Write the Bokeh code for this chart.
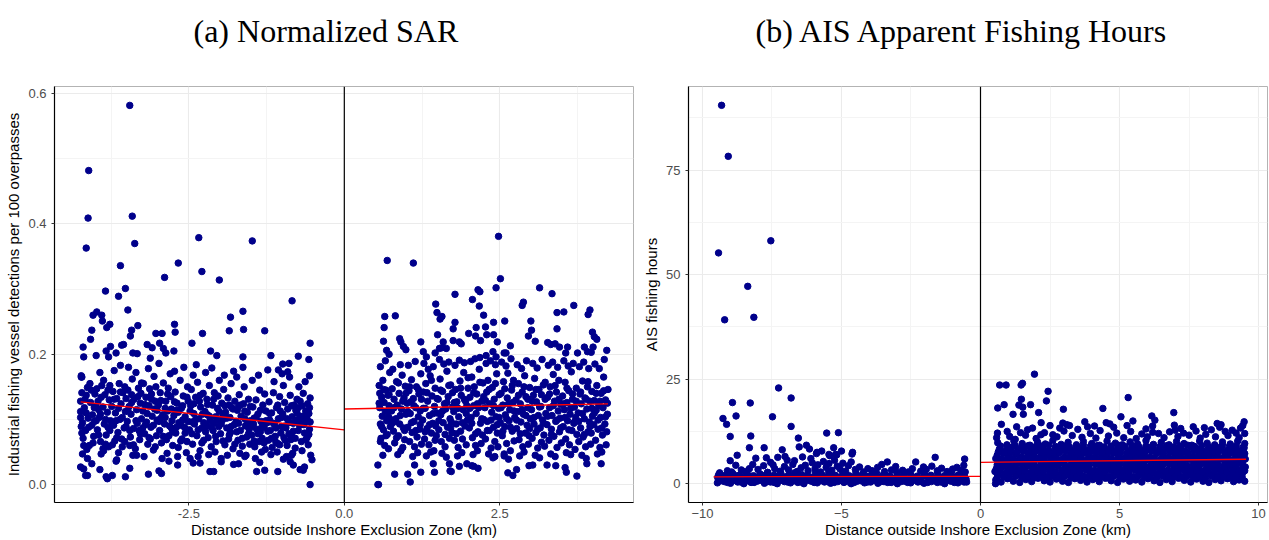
from bokeh.plotting import figure
from bokeh.layouts import row
from bokeh.models import Range1d, FixedTicker, Span, PrintfTickFormatter
from bokeh.embed import file_html
from bokeh.resources import INLINE

# ---------------- data: (a) Normalized SAR ----------------
sar_left_upper = [(-3.45,.582),(-4.11,.482),(-4.12,.409),(-3.41,.412),(-4.15,.363),(-3.37,.370),(-2.34,.379),(-1.48,.374),
 (-3.60,.336),(-2.67,.340),(-2.29,.327),(-2.89,.318),(-2.01,.314),(-3.84,.297),(-3.52,.301),(-3.63,.289),(-0.84,.282),
 (-3.48,.268),(-4.04,.260),(-3.98,.265),(-3.90,.260),(-3.89,.251),(-3.77,.246),(-3.82,.241),(-4.06,.237),(-4.08,.223),
 (-4.20,.211),(-4.19,.196),(-3.42,.237),(-3.32,.244),(-3.44,.228),(-2.73,.246),(-2.72,.234),(-3.03,.232),(-2.93,.232),
 (-1.83,.257),(-1.63,.266),(-1.85,.236),(-1.62,.238),(-2.28,.232),(-1.28,.236),(-2.45,.217),(-0.55,.217),(-2.15,.205),
 (-2.05,.198),(-1.63,.196),(-1.18,.198),(-0.74,.197),(-0.57,.192),(-3.76,.212),(-3.83,.205),(-3.58,.214),(-3.55,.215),
 (-3.99,.198),(-3.79,.196),(-3.67,.202),(-3.40,.202),(-3.33,.201),(-3.17,.215),(-3.09,.210),(-3.12,.194),(-2.97,.217),
 (-2.91,.209),(-2.87,.202),(-2.74,.205),(-4.23,.167),(-4.22,.165),(-0.56,.167),(-0.89,.186),(-0.91,.173),(-1.06,.176),
 (-1.00,.170),(-0.99,.185)]
sar_left_core = [
 (-4.23,.165),(-4.22,.141),(-4.24,.128),(-4.21,.095),(-4.23,.089),(-4.20,.071),(-4.24,.112),(-4.18,.118),(-4.15,.137),(-4.12,.102),(-4.16,.083),
 (-4.10,.060),(-4.13,.149),(-4.08,.126),(-4.06,.091),(-4.03,.074),(-4.05,.107),(-4.01,.139),(-4.14,.054),(-4.09,.155),(-4.02,.118),(-4.19,.060),
 (-3.98,.147),(-3.96,.128),(-3.97,.084),(-3.94,.103),(-3.92,.066),(-3.90,.152),(-3.88,.119),(-3.86,.093),(-3.85,.138),(-3.83,.076),(-3.81,.111),
 (-3.79,.058),(-3.78,.130),(-3.76,.098),(-3.93,.172),(-3.87,.160),(-3.80,.145),(-3.95,.115),(-3.84,.062),(-3.77,.083),(-3.91,.047),(-3.99,.098),
 (-3.74,.120),(-3.72,.143),(-3.71,.091),(-3.69,.067),(-3.68,.110),(-3.66,.132),(-3.64,.080),(-3.62,.155),(-3.61,.100),(-3.59,.124),(-3.57,.058),
 (-3.56,.141),(-3.54,.087),(-3.52,.112),(-3.70,.175),(-3.63,.049),(-3.58,.070),(-3.53,.150),(-3.67,.098),(-3.73,.061),(-3.60,.183),(-3.51,.132),
 (-3.49,.097),(-3.48,.145),(-3.46,.120),(-3.44,.073),(-3.43,.108),(-3.41,.162),(-3.39,.086),(-3.38,.131),(-3.36,.055),(-3.34,.115),(-3.33,.094),
 (-3.31,.148),(-3.29,.069),(-3.28,.125),(-3.26,.101),(-3.47,.180),(-3.40,.045),(-3.35,.172),(-3.27,.140),(-3.45,.060),(-3.30,.083),(-3.42,.138),
 (-3.24,.113),(-3.23,.155),(-3.21,.078),(-3.19,.134),(-3.18,.096),(-3.16,.062),(-3.14,.121),(-3.13,.147),(-3.11,.088),(-3.09,.105),(-3.07,.053),
 (-3.06,.166),(-3.04,.128),(-3.02,.075),(-3.01,.099),(-3.22,.043),(-3.15,.178),(-3.10,.139),(-3.05,.116),(-3.20,.092),(-3.12,.070),(-3.03,.150),
 (-2.99,.122),(-2.97,.083),(-2.96,.141),(-2.94,.064),(-2.92,.107),(-2.91,.156),(-2.89,.093),(-2.87,.128),(-2.85,.048),(-2.84,.113),(-2.82,.075),
 (-2.80,.170),(-2.79,.135),(-2.77,.098),(-2.76,.060),(-2.98,.186),(-2.93,.040),(-2.88,.117),(-2.83,.148),(-2.78,.087),(-2.95,.102),(-2.86,.069),
 (-2.74,.106),(-2.72,.142),(-2.71,.079),(-2.69,.125),(-2.67,.057),(-2.66,.095),(-2.64,.160),(-2.62,.117),(-2.61,.070),(-2.59,.136),(-2.57,.088),
 (-2.56,.104),(-2.54,.049),(-2.52,.150),(-2.51,.128),(-2.73,.174),(-2.68,.043),(-2.63,.091),(-2.58,.180),(-2.53,.066),(-2.70,.114),(-2.60,.099),
 (-2.49,.084),(-2.47,.121),(-2.46,.146),(-2.44,.062),(-2.42,.109),(-2.41,.093),(-2.39,.134),(-2.37,.075),(-2.36,.157),(-2.34,.101),(-2.32,.052),
 (-2.31,.119),(-2.29,.087),(-2.27,.140),(-2.26,.068),(-2.48,.040),(-2.43,.168),(-2.38,.184),(-2.33,.128),(-2.28,.108),(-2.45,.096),(-2.35,.043),
 (-2.24,.112),(-2.22,.090),(-2.21,.131),(-2.19,.072),(-2.17,.152),(-2.16,.098),(-2.14,.058),(-2.12,.122),(-2.11,.083),(-2.09,.141),(-2.07,.104),
 (-2.06,.066),(-2.04,.117),(-2.02,.089),(-2.01,.160),(-2.23,.172),(-2.18,.046),(-2.13,.179),(-2.08,.050),(-2.03,.136),(-2.20,.107),(-2.10,.094),
 (-1.99,.078),(-1.97,.125),(-1.96,.099),(-1.94,.146),(-1.92,.061),(-1.91,.111),(-1.89,.087),(-1.87,.133),(-1.86,.070),(-1.84,.103),(-1.82,.155),
 (-1.81,.118),(-1.79,.055),(-1.77,.092),(-1.76,.128),(-1.98,.040),(-1.93,.168),(-1.88,.045),(-1.83,.080),(-1.78,.174),(-1.95,.106),(-1.85,.122),
 (-1.74,.097),(-1.72,.114),(-1.71,.068),(-1.69,.138),(-1.67,.083),(-1.66,.105),(-1.64,.059),(-1.62,.124),(-1.61,.150),(-1.59,.090),(-1.57,.073),
 (-1.56,.111),(-1.54,.131),(-1.52,.062),(-1.51,.098),(-1.73,.165),(-1.68,.048),(-1.63,.180),(-1.58,.045),(-1.53,.085),(-1.70,.120),(-1.60,.101),
 (-1.49,.076),(-1.47,.119),(-1.46,.093),(-1.44,.058),(-1.42,.130),(-1.41,.085),(-1.39,.108),(-1.37,.066),(-1.36,.145),(-1.34,.097),(-1.32,.071),
 (-1.31,.122),(-1.29,.088),(-1.27,.054),(-1.26,.113),(-1.48,.160),(-1.43,.040),(-1.38,.168),(-1.33,.050),(-1.28,.139),(-1.45,.102),(-1.35,.081),
 (-1.24,.095),(-1.22,.068),(-1.21,.127),(-1.19,.083),(-1.17,.110),(-1.16,.057),(-1.14,.141),(-1.12,.092),(-1.11,.074),(-1.09,.118),(-1.07,.063),
 (-1.06,.101),(-1.04,.135),(-1.02,.079),(-1.01,.089),(-1.23,.176),(-1.18,.046),(-1.13,.158),(-1.08,.050),(-1.03,.113),(-1.20,.099),(-1.10,.065),
 (-0.99,.108),(-0.97,.072),(-0.96,.126),(-0.94,.087),(-0.92,.060),(-0.91,.116),(-0.89,.095),(-0.87,.137),(-0.86,.069),(-0.84,.104),(-0.82,.082),
 (-0.81,.122),(-0.79,.056),(-0.77,.099),(-0.76,.131),(-0.98,.152),(-0.93,.043),(-0.88,.165),(-0.83,.048),(-0.78,.114),(-0.95,.090),(-0.85,.075),
 (-0.74,.118),(-0.72,.091),(-0.71,.128),(-0.69,.066),(-0.67,.105),(-0.66,.140),(-0.64,.079),(-0.62,.113),(-0.61,.097),(-0.59,.124),(-0.58,.061),
 (-0.57,.109),(-0.56,.085),(-0.55,.133),(-0.73,.150),(-0.68,.052),(-0.63,.158),(-0.60,.072),(-0.56,.118),(-0.70,.099)]
sar_left_core2 = [
 (-4.24,.103),(-4.22,.079),(-4.17,.131),(-4.11,.088),(-4.07,.145),(-4.04,.064),(-4.02,.097),(-4.15,.110),
 (-3.99,.120),(-3.95,.076),(-3.91,.134),(-3.87,.052),(-3.84,.100),(-3.80,.088),(-3.77,.152),(-3.92,.108),
 (-3.73,.094),(-3.70,.131),(-3.66,.072),(-3.63,.117),(-3.60,.142),(-3.57,.103),(-3.53,.066),(-3.51,.089),
 (-3.48,.114),(-3.45,.083),(-3.42,.126),(-3.39,.061),(-3.35,.098),(-3.32,.135),(-3.28,.078),(-3.26,.156),
 (-3.24,.087),(-3.21,.123),(-3.17,.109),(-3.14,.072),(-3.10,.131),(-3.07,.091),(-3.04,.058),(-3.01,.114),
 (-2.98,.097),(-2.95,.129),(-2.91,.074),(-2.88,.103),(-2.84,.139),(-2.81,.090),(-2.78,.116),(-2.76,.081),
 (-2.73,.127),(-2.70,.088),(-2.67,.111),(-2.63,.067),(-2.60,.121),(-2.56,.079),(-2.53,.134),(-2.51,.097),
 (-2.48,.113),(-2.45,.078),(-2.42,.124),(-2.39,.100),(-2.35,.084),(-2.32,.137),(-2.29,.064),(-2.26,.095),
 (-2.23,.081),(-2.20,.123),(-2.17,.105),(-2.14,.088),(-2.10,.131),(-2.07,.074),(-2.04,.099),(-2.01,.112),
 (-1.98,.093),(-1.95,.067),(-1.92,.121),(-1.89,.102),(-1.85,.076),(-1.82,.089),(-1.79,.116),(-1.76,.062),
 (-1.73,.081),(-1.70,.094),(-1.67,.122),(-1.64,.071),(-1.60,.113),(-1.57,.092),(-1.54,.078),(-1.51,.120),
 (-1.48,.089),(-1.45,.067),(-1.42,.103),(-1.39,.078),(-1.35,.114),(-1.32,.090),(-1.29,.064),(-1.26,.098),
 (-1.23,.082),(-1.20,.109),(-1.17,.071),(-1.14,.094),(-1.10,.087),(-1.07,.122),(-1.04,.061),(-1.01,.103),
 (-0.98,.089),(-0.95,.068),(-0.92,.101),(-0.89,.078),(-0.85,.121),(-0.82,.094),(-0.79,.071),(-0.76,.110),
 (-0.74,.083),(-0.71,.104),(-0.68,.121),(-0.65,.092),(-0.62,.069),(-0.60,.101),(-0.57,.077),(-0.55,.096)]
sar_left_low = [(-0.55,.000),(-4.24,.027),(-4.19,.024),(-4.16,.014),(-4.13,.014),(-3.93,.023),(-3.83,.012),(-3.81,.009),
 (-3.73,.014),(-3.52,.012),(-3.45,.025),(-3.15,.016),(-2.98,.021),(-2.94,.017),(-2.68,.030),(-2.16,.020),(-2.10,.020),
 (-1.41,.020),(-1.28,.022),(-1.07,.020),(-0.87,.035),(-0.82,.030),(-0.71,.023),(-0.66,.022),(-0.64,.027),(-0.54,.045),
 (-0.52,.038),(-4.21,.047),(-4.13,.040),(-4.06,.032),(-3.88,.055),(-3.66,.038),(-3.67,.036),(-3.34,.045),(-2.82,.036),
 (-2.43,.033),(-2.32,.033),(-1.98,.035),(-1.78,.031),(-1.70,.032),(-1.60,.043),(-1.36,.034),(-0.98,.039),(-0.85,.045)]

sar_right_upper = [(2.48,.381),(0.69,.344),(1.11,.340),(2.51,.316),(2.44,.302),(3.14,.302),(3.34,.293),(2.15,.299),(2.18,.296),
 (1.78,.292),(2.06,.284),(2.88,.280),(2.86,.275),(3.69,.275),(1.47,.277),(2.17,.274),(1.49,.264),(3.95,.268),(3.92,.261),
 (3.42,.264),(3.53,.265),(0.65,.258),(0.82,.259),(1.54,.254),(1.57,.258),(2.24,.260),(1.78,.249),(2.40,.249),(2.58,.251),
 (3.00,.251),(0.64,.241),(1.75,.239),(2.12,.241),(2.27,.242),(3.01,.237),(3.42,.239),(3.99,.234),(4.02,.227),(4.06,.223),
 (0.63,.220),(0.89,.224),(0.91,.219),(0.95,.212),(0.99,.207),(0.68,.206),(0.72,.200),(1.23,.219),(1.50,.230),(2.00,.232),
 (2.11,.228),(2.19,.221),(2.29,.230),(2.40,.230),(2.46,.219),(2.96,.228),(3.07,.220),(3.27,.218),(3.32,.215),(3.39,.216),
 (3.46,.211),(3.59,.211),(3.56,.202),(4.22,.206),(3.75,.202),(3.86,.211),(3.91,.204),(3.97,.203),(4.00,.211),(1.27,.204),
 (1.32,.196),(1.46,.202),(1.53,.209),(1.57,.210),(1.59,.219),(1.64,.209),(1.75,.221),(1.85,.219),(1.88,.216),(2.28,.198),
 (2.39,.204),(2.44,.196),(2.57,.202),(2.60,.202),(2.67,.213)]
sar_right_core = [
 (0.56,.152),(0.57,.118),(0.58,.093),(0.59,.071),(0.60,.134),(0.61,.105),(0.62,.160),(0.63,.084),(0.64,.126),(0.65,.060),(0.66,.112),(0.67,.145),
 (0.68,.098),(0.69,.077),(0.70,.137),(0.71,.055),(0.72,.121),(0.73,.172),(0.74,.089),(0.58,.181),(0.62,.045),(0.57,.140),(0.66,.190),(0.71,.104),
 (0.76,.113),(0.77,.147),(0.79,.082),(0.80,.131),(0.81,.064),(0.83,.101),(0.84,.158),(0.85,.122),(0.87,.075),(0.88,.140),(0.89,.093),(0.91,.052),
 (0.92,.116),(0.93,.168),(0.95,.087),(0.96,.133),(0.97,.069),(0.99,.108),(0.78,.177),(0.86,.046),(0.90,.184),(0.94,.057),(0.98,.151),(0.82,.097),
 (1.01,.125),(1.02,.088),(1.04,.144),(1.05,.066),(1.06,.109),(1.08,.161),(1.09,.080),(1.11,.132),(1.12,.097),(1.13,.058),(1.15,.118),(1.16,.150),
 (1.17,.073),(1.19,.104),(1.20,.139),(1.21,.085),(1.23,.170),(1.24,.062),(1.03,.183),(1.10,.043),(1.14,.189),(1.18,.049),(1.22,.113),(1.07,.127),
 (1.26,.099),(1.27,.142),(1.29,.070),(1.30,.117),(1.31,.155),(1.33,.086),(1.34,.128),(1.36,.061),(1.37,.106),(1.38,.167),(1.40,.079),(1.41,.136),
 (1.42,.094),(1.44,.052),(1.45,.120),(1.46,.148),(1.48,.075),(1.49,.110),(1.28,.186),(1.32,.044),(1.35,.177),(1.39,.050),(1.43,.181),(1.47,.090),
 (1.51,.131),(1.52,.084),(1.54,.162),(1.55,.107),(1.56,.066),(1.58,.143),(1.59,.095),(1.61,.124),(1.62,.058),(1.63,.116),(1.65,.174),(1.66,.088),
 (1.67,.135),(1.69,.071),(1.70,.101),(1.71,.153),(1.73,.080),(1.74,.119),(1.53,.192),(1.57,.048),(1.60,.185),(1.64,.042),(1.68,.188),(1.72,.096),
 (1.76,.112),(1.77,.068),(1.79,.146),(1.80,.093),(1.81,.127),(1.83,.057),(1.84,.104),(1.86,.159),(1.87,.082),(1.88,.137),(1.90,.070),(1.91,.115),
 (1.92,.172),(1.94,.090),(1.95,.128),(1.96,.061),(1.98,.099),(1.99,.148),(1.78,.183),(1.82,.044),(1.85,.191),(1.89,.049),(1.93,.187),(1.97,.121),
 (2.01,.087),(2.02,.134),(2.04,.103),(2.05,.165),(2.06,.072),(2.08,.121),(2.09,.150),(2.11,.060),(2.12,.109),(2.13,.139),(2.15,.081),(2.16,.118),
 (2.17,.177),(2.19,.094),(2.20,.063),(2.21,.128),(2.23,.156),(2.24,.100),(2.03,.189),(2.07,.046),(2.10,.193),(2.14,.052),(2.18,.195),(2.22,.076),
 (2.26,.118),(2.27,.070),(2.29,.142),(2.30,.097),(2.31,.160),(2.33,.083),(2.34,.124),(2.36,.056),(2.37,.111),(2.38,.149),(2.40,.088),(2.41,.131),
 (2.42,.066),(2.44,.104),(2.45,.170),(2.46,.079),(2.48,.117),(2.49,.138),(2.28,.186),(2.32,.047),(2.35,.190),(2.39,.041),(2.43,.184),(2.47,.058),
 (2.51,.095),(2.52,.140),(2.54,.075),(2.55,.122),(2.56,.158),(2.58,.089),(2.59,.107),(2.61,.063),(2.62,.133),(2.63,.171),(2.65,.098),(2.66,.115),
 (2.67,.052),(2.69,.145),(2.70,.082),(2.71,.126),(2.73,.067),(2.74,.103),(2.53,.188),(2.57,.047),(2.60,.182),(2.64,.039),(2.68,.193),(2.72,.160),
 (2.76,.130),(2.77,.086),(2.79,.112),(2.80,.155),(2.81,.069),(2.83,.124),(2.84,.096),(2.86,.142),(2.87,.058),(2.88,.108),(2.90,.167),(2.91,.079),
 (2.92,.135),(2.94,.091),(2.95,.118),(2.96,.062),(2.98,.149),(2.99,.101),(2.78,.184),(2.82,.044),(2.85,.178),(2.89,.050),(2.93,.190),(2.97,.075),
 (3.01,.115),(3.02,.071),(3.04,.137),(3.05,.093),(3.06,.163),(3.08,.080),(3.09,.127),(3.11,.056),(3.12,.106),(3.13,.146),(3.15,.087),(3.16,.120),
 (3.17,.065),(3.19,.099),(3.20,.153),(3.21,.076),(3.23,.131),(3.24,.109),(3.03,.186),(3.07,.045),(3.10,.179),(3.14,.041),(3.18,.192),(3.22,.059),
 (3.26,.092),(3.27,.134),(3.29,.068),(3.30,.118),(3.31,.150),(3.33,.085),(3.34,.106),(3.36,.169),(3.37,.074),(3.38,.128),(3.40,.097),(3.41,.142),
 (3.42,.057),(3.44,.113),(3.45,.160),(3.46,.081),(3.48,.123),(3.49,.064),(3.28,.183),(3.32,.047),(3.35,.188),(3.39,.043),(3.43,.180),(3.47,.102),
 (3.51,.136),(3.52,.089),(3.54,.115),(3.55,.157),(3.56,.070),(3.58,.126),(3.59,.098),(3.61,.144),(3.62,.061),(3.63,.108),(3.65,.173),(3.66,.083),
 (3.67,.131),(3.69,.094),(3.70,.119),(3.71,.054),(3.73,.148),(3.74,.077),(3.53,.190),(3.57,.049),(3.60,.182),(3.64,.046),(3.68,.186),(3.72,.103),
 (3.76,.110),(3.77,.066),(3.79,.139),(3.80,.087),(3.81,.124),(3.83,.159),(3.84,.073),(3.86,.101),(3.87,.133),(3.88,.058),(3.90,.116),(3.91,.150),
 (3.92,.081),(3.94,.096),(3.95,.128),(3.96,.062),(3.98,.143),(3.99,.105),(3.78,.181),(3.82,.045),(3.85,.188),(3.89,.040),(3.93,.178),(3.97,.079),
 (4.01,.092),(4.02,.129),(4.04,.068),(4.05,.114),(4.06,.152),(4.08,.085),(4.09,.121),(4.11,.057),(4.12,.103),(4.13,.140),(4.15,.076),(4.16,.118),
 (4.17,.165),(4.19,.093),(4.20,.130),(4.21,.061),(4.23,.108),(4.24,.146),(4.03,.185),(4.07,.047),(4.10,.178),(4.14,.050),(4.18,.192),(4.22,.081)]
sar_right_core2 = [
 (0.56,.125),(0.60,.089),(0.63,.146),(0.67,.075),(0.70,.112),(0.73,.101),(0.58,.066),(0.72,.138),
 (0.77,.094),(0.80,.118),(0.84,.072),(0.87,.156),(0.90,.106),(0.94,.128),(0.97,.083),(0.99,.140),
 (1.02,.112),(1.05,.150),(1.08,.095),(1.12,.121),(1.15,.083),(1.19,.146),(1.22,.092),(1.24,.131),
 (1.27,.117),(1.30,.081),(1.33,.141),(1.37,.092),(1.40,.160),(1.43,.109),(1.46,.068),(1.49,.132),
 (1.52,.098),(1.55,.145),(1.58,.113),(1.62,.077),(1.65,.126),(1.68,.152),(1.71,.087),(1.74,.141),
 (1.77,.126),(1.80,.078),(1.83,.117),(1.87,.148),(1.90,.095),(1.93,.131),(1.96,.109),(1.99,.164),
 (2.02,.117),(2.05,.094),(2.08,.141),(2.11,.078),(2.14,.124),(2.18,.157),(2.21,.101),(2.24,.135),
 (2.27,.129),(2.30,.083),(2.33,.146),(2.36,.099),(2.40,.121),(2.43,.155),(2.46,.092),(2.49,.103),
 (2.52,.118),(2.55,.082),(2.58,.147),(2.61,.101),(2.64,.124),(2.67,.088),(2.70,.152),(2.73,.113),
 (2.77,.099),(2.80,.137),(2.83,.078),(2.86,.115),(2.89,.150),(2.92,.106),(2.95,.131),(2.98,.086),
 (3.02,.128),(3.05,.103),(3.08,.146),(3.11,.085),(3.14,.119),(3.17,.138),(3.20,.094),(3.23,.157),
 (3.27,.105),(3.30,.139),(3.33,.077),(3.36,.121),(3.39,.152),(3.42,.099),(3.45,.131),(3.48,.087),
 (3.52,.124),(3.55,.103),(3.58,.148),(3.61,.084),(3.64,.117),(3.67,.139),(3.70,.096),(3.73,.128),
 (3.77,.097),(3.80,.142),(3.83,.109),(3.86,.077),(3.89,.131),(3.92,.158),(3.95,.089),(3.98,.117),
 (4.02,.110),(4.05,.140),(4.08,.099),(4.11,.128),(4.14,.087),(4.17,.144),(4.20,.104),(4.23,.125)]
sar_right_low = [(0.54,.000),(0.55,.000),(0.54,.030),(0.81,.016),(1.02,.016),(1.06,.004),(1.13,.030),(1.23,.019),(1.43,.032),
 (1.45,.019),(1.69,.032),(1.70,.021),(1.85,.028),(1.97,.032),(2.05,.029),(2.15,.025),(2.42,.043),(2.57,.044),(2.63,.018),
 (2.71,.014),(2.77,.023),(2.97,.029),(3.03,.030),(3.26,.030),(3.40,.029),(3.55,.026),(3.57,.019),(3.74,.013),(3.90,.032),
 (4.13,.032),(1.72,.020),(2.08,.028)]

sar_fit_left_x = [-4.24, 0.0]
sar_fit_left_y = [0.127, 0.084]
sar_fit_right_x = [0.0, 4.24]
sar_fit_right_y = [0.116, 0.124]

# ---------------- data: (b) AIS Apparent Fishing Hours ----------------
ais_left_outliers = [(-9.31,90.5),(-9.07,78.3),(-9.42,55.2),(-7.54,58.1),(-8.37,47.2),(-9.20,39.2),(-8.15,39.8),(-7.26,22.9),
 (-6.81,20.5),(-8.92,19.4),(-8.28,19.3),(-9.26,15.6),(-8.79,16.2),(-7.48,16.0),(-9.13,14.2),(-6.81,13.7),(-9.00,11.3),
 (-8.26,11.4),(-5.53,12.1),(-5.11,12.2),(-6.55,10.9),(-8.31,8.6),(-7.78,8.6),(-6.52,8.8),(-6.26,9.2),(-6.15,8.3),(-5.71,7.8),
 (-5.28,8.6),(-5.00,7.8),(-5.21,7.0),(-7.13,8.1),(-8.75,6.8),(-8.08,6.1),(-7.70,6.2),(-7.29,6.3),(-7.03,6.5),(-6.69,5.5),
 (-9.00,5.5),(-8.80,4.4),(-8.31,3.6),(-8.19,4.6),(-7.80,4.3),(-7.46,4.5),(-4.60,7.5),(-4.62,7.1),(-5.90,7.2),(-5.45,7.0),
 (-2.33,5.2),(-1.63,6.3),(-0.57,5.9),(-3.35,5.2),(-5.88,7.5),(-5.42,6.7),(-5.17,6.9)]
ais_left_scatter = [(-9.38,2.6),(-9.1,3.1),(-8.95,2.8),(-8.6,3.3),(-8.45,2.9),(-8.0,3.4),(-7.65,2.7),(-7.4,3.6),(-7.2,3.0),
 (-7.05,4.1),(-6.9,3.3),(-6.75,4.6),(-6.6,2.9),(-6.45,3.8),(-6.3,4.4),(-6.2,3.1),(-6.05,5.0),(-5.95,3.6),(-5.85,4.5),
 (-5.75,2.8),(-5.65,5.3),(-5.55,3.9),(-5.45,4.8),(-5.35,3.2),(-5.25,5.6),(-5.15,4.2),(-5.05,3.5),(-4.95,4.9),(-4.85,3.0),
 (-4.75,4.3),(-4.65,5.2),(-4.5,3.4),(-4.35,4.0),(-4.2,2.8),(-4.05,3.6),(-3.9,3.1),(-3.7,3.9),(-3.55,4.6),(-3.45,2.9),
 (-3.2,3.3),(-3.0,2.7),(-2.8,3.2),(-2.6,2.8),(-2.45,3.6),(-2.15,3.0),(-1.95,3.4),(-1.75,4.2),(-1.55,3.1),(-1.4,3.7),
 (-1.2,2.9),(-1.0,3.5),(-0.85,3.9),(-0.7,3.2),(-0.6,4.4),(-0.55,2.8),(-2.05,4.0),(-3.05,4.1),(-6.1,6.0),(-6.4,6.4),
 (-6.95,5.6),(-7.55,5.1)]
ais_left_band = [
 (-9.46,0.2),(-9.21,0.5),(-8.99,0.1),(-8.73,0.4),(-8.51,0.0),(-8.25,0.3),(-8.03,0.6),(-7.77,0.1),(-7.55,0.4),(-7.31,0.0),
 (-7.05,0.5),(-6.83,0.2),(-6.57,0.3),(-6.35,0.0),(-6.09,0.6),(-5.87,0.2),(-5.61,0.4),(-5.39,0.1),(-5.13,0.5),(-4.91,0.3),
 (-4.65,0.0),(-4.43,0.6),(-4.17,0.2),(-3.95,0.4),(-3.69,0.1),(-3.47,0.5),(-3.21,0.3),(-2.99,0.0),(-2.73,0.6),(-2.51,0.2),
 (-2.25,0.4),(-2.03,0.1),(-1.77,0.5),(-1.55,0.3),(-1.29,0.0),(-1.07,0.6),(-0.81,0.2),(-0.59,0.4),
 (-9.34,1.1),(-9.1,0.8),(-8.86,1.5),(-8.62,1.0),(-8.38,1.3),(-8.14,0.8),(-7.9,1.6),(-7.66,1.1),(-7.42,0.9),(-7.18,1.4),
 (-6.94,1.0),(-6.7,1.6),(-6.46,0.9),(-6.22,1.3),(-5.98,1.0),(-5.74,1.5),(-5.5,1.2),(-5.26,0.8),(-5.02,1.4),(-4.78,1.0),
 (-4.54,1.6),(-4.3,1.1),(-4.06,0.8),(-3.82,1.3),(-3.58,1.0),(-3.34,1.5),(-3.1,0.9),(-2.86,1.2),(-2.62,0.8),(-2.38,1.4),
 (-2.14,1.0),(-1.9,1.6),(-1.66,1.1),(-1.42,0.8),(-1.18,1.3),(-0.94,1.0),(-0.7,1.5),(-0.52,1.1),
 (-9.42,2.1),(-9.16,1.8),(-8.9,2.4),(-8.66,2.0),(-8.4,2.6),(-8.16,1.9),(-7.92,2.3),(-7.66,2.7),(-7.42,2.0),(-7.18,2.5),
 (-6.92,1.9),(-6.68,2.6),(-6.44,2.2),(-6.2,1.8),(-5.94,2.5),(-5.7,2.1),(-5.46,2.7),(-5.22,2.0),(-4.96,2.4),(-4.72,1.9),
 (-4.48,2.6),(-4.24,2.2),(-4.0,1.8),(-3.74,2.5),(-3.5,2.1),(-3.26,1.9),(-3.0,2.4),(-2.76,2.0),(-2.52,2.6),(-2.28,1.8),
 (-2.02,2.3),(-1.78,2.0),(-1.54,2.6),(-1.3,1.9),(-1.04,2.4),(-0.8,2.1),(-0.6,2.7)]
ais_left_band2 = [
 (-9.33,0.7),(-9.1,0.3),(-8.86,0.8),(-8.62,0.4),(-8.38,0.7),(-8.14,0.3),(-7.9,0.8),(-7.66,0.5),(-7.42,0.3),(-7.18,0.8),
 (-6.94,0.4),(-6.7,0.7),(-6.46,0.4),(-6.22,0.8),(-5.98,0.3),(-5.74,0.7),(-5.5,0.5),(-5.26,0.3),(-5.02,0.8),(-4.78,0.5),
 (-4.54,0.3),(-4.3,0.7),(-4.06,0.4),(-3.82,0.8),(-3.58,0.5),(-3.34,0.3),(-3.1,0.7),(-2.86,0.5),(-2.62,0.3),(-2.38,0.8),
 (-2.14,0.5),(-1.9,0.3),(-1.66,0.7),(-1.42,0.4),(-1.18,0.8),(-0.94,0.3),(-0.7,0.7),(-0.5,0.4),
 (-9.45,1.5),(-9.22,1.9),(-8.98,1.6),(-8.74,1.9),(-8.5,1.5),(-8.26,1.8),(-8.02,1.6),(-7.78,1.9),(-7.54,1.5),(-7.3,1.8),
 (-7.06,1.6),(-6.82,1.9),(-6.58,1.6),(-6.34,1.8),(-6.1,1.5),(-5.86,1.9),(-5.62,1.6),(-5.38,1.8),(-5.14,1.5),(-4.9,1.9),
 (-4.66,1.6),(-4.42,1.8),(-4.18,1.5),(-3.94,1.9),(-3.7,1.6),(-3.46,1.8),(-3.22,1.5),(-2.98,1.9),(-2.74,1.6),(-2.5,1.8),
 (-2.26,1.5),(-2.02,1.9),(-1.78,1.6),(-1.54,1.8),(-1.3,1.5),(-1.06,1.9),(-0.82,1.6),(-0.58,1.8)]

ais_right_outliers = [(1.94,26.2),(0.69,23.6),(0.92,23.6),(1.46,23.6),(1.51,24.0),(2.43,22.1),(5.31,20.6),(0.85,18.9),
 (0.62,18.1),(1.47,20.2),(1.38,18.8),(1.52,18.3),(1.80,18.9),(2.37,19.8),(1.17,16.6),(1.54,16.6),(2.09,17.0),(2.98,17.8),
 (4.40,18.0),(5.05,16.0),(6.16,16.2),(6.27,15.2),(6.95,17.0),(6.97,14.0),(9.48,14.8),(9.43,13.9),(3.75,14.8),(4.52,14.6),
 (4.79,13.5),(5.48,15.0),(5.27,13.9),(2.18,14.6),(2.50,13.9),(2.96,14.5),(3.11,14.1),(2.60,11.7),(8.51,14.4),(8.65,14.1),
 (8.80,12.5),(9.19,12.1),(6.19,13.8),(6.19,12.3),(0.61,12.1),(0.96,12.5),(1.44,12.2),(1.69,12.9),(1.87,13.3),(2.17,11.7)]
ais_right_scatter = [(0.58,11.0),(1.05,11.3),(1.25,10.6),(1.62,11.6),(2.0,10.8),(2.3,12.2),(2.75,11.2),(3.0,12.6),(3.3,11.5),
 (3.5,13.0),(3.65,11.1),(3.95,12.0),(4.15,10.9),(4.3,12.7),(4.6,11.4),(4.9,12.1),(5.15,11.0),(5.4,12.5),(5.6,10.8),
 (5.8,11.9),(6.0,11.2),(6.4,12.0),(6.6,11.0),(6.8,12.4),(7.1,11.3),(7.3,12.1),(7.5,11.6),(7.75,12.6),(7.9,10.9),(8.1,11.8),
 (8.3,12.9),(8.45,11.2),(8.9,11.5),(9.05,12.8),(9.3,11.0),(9.5,12.0),(3.85,13.6),(4.1,13.8),(7.2,13.2),(7.65,13.6),
 (8.05,13.4),(2.85,13.3),(1.3,13.6),(0.75,14.2),(5.95,13.1),(3.2,13.9),(4.65,14.3),(7.0,12.8),(8.6,13.5),(9.35,13.3)]
ais_right_band = [(0.54,0.0),
 (0.55,0.9),(0.74,0.4),(0.97,1.2),(1.18,0.6),(1.41,0.3),(1.63,1.0),(1.84,0.5),(2.07,1.3),(2.29,0.7),(2.5,0.4),(2.73,1.1),
 (2.95,0.6),(3.16,0.3),(3.39,1.2),(3.6,0.8),(3.83,0.4),(4.04,1.0),(4.27,0.5),(4.49,1.3),(4.7,0.7),(4.93,0.3),(5.14,1.1),
 (5.36,0.6),(5.58,0.9),(5.8,0.4),(6.02,1.2),(6.24,0.7),(6.45,0.3),(6.68,1.0),(6.89,0.5),(7.12,1.3),(7.33,0.8),(7.56,0.4),
 (7.77,1.1),(8.0,0.6),(8.21,0.3),(8.44,1.0),(8.65,0.7),(8.88,1.2),(9.1,0.5),(9.3,0.9),(9.5,0.6),
 (0.62,2.2),(0.85,1.8),(1.07,2.6),(1.29,2.0),(1.52,2.4),(1.73,1.7),(1.96,2.7),(2.18,2.1),(2.4,1.8),(2.62,2.5),(2.84,2.0),
 (3.06,2.6),(3.28,1.9),(3.5,2.3),(3.72,1.7),(3.94,2.7),(4.16,2.1),(4.38,2.4),(4.6,1.8),(4.82,2.6),(5.04,2.0),(5.26,2.3),
 (5.47,1.7),(5.7,2.5),(5.91,2.1),(6.13,2.7),(6.35,1.9),(6.57,2.4),(6.79,2.0),(7.01,2.6),(7.23,1.8),(7.45,2.3),(7.67,2.7),
 (7.89,1.9),(8.11,2.5),(8.33,2.1),(8.55,1.8),(8.77,2.6),(8.99,2.2),(9.2,1.9),(9.42,2.5),
 (0.57,3.6),(0.79,4.1),(1.01,3.3),(1.24,3.9),(1.46,3.4),(1.68,4.2),(1.9,3.7),(2.12,3.2),(2.34,4.0),(2.56,3.5),(2.78,4.2),
 (3.0,3.3),(3.22,3.8),(3.44,3.4),(3.66,4.1),(3.88,3.6),(4.1,3.2),(4.32,3.9),(4.54,3.5),(4.76,4.2),(4.98,3.7),(5.2,3.3),
 (5.42,4.0),(5.64,3.5),(5.86,3.9),(6.08,3.3),(6.3,4.1),(6.52,3.6),(6.74,3.2),(6.96,3.9),(7.18,3.5),(7.4,4.2),(7.62,3.4),
 (7.84,3.8),(8.06,3.2),(8.28,4.0),(8.5,3.6),(8.72,3.3),(8.94,4.1),(9.16,3.7),(9.38,3.4),(9.52,4.0),
 (0.66,5.2),(0.88,4.8),(1.1,5.7),(1.32,5.0),(1.54,5.5),(1.76,4.9),(1.98,5.8),(2.2,5.2),(2.42,4.8),(2.64,5.6),(2.86,5.1),
 (3.08,5.8),(3.3,4.9),(3.52,5.4),(3.74,5.0),(3.96,5.7),(4.18,5.2),(4.4,4.8),(4.62,5.6),(4.84,5.1),(5.06,5.8),(5.28,4.9),
 (5.5,5.4),(5.72,5.0),(5.94,5.7),(6.16,5.2),(6.38,4.8),(6.6,5.6),(6.82,5.0),(7.04,5.5),(7.26,4.9),(7.48,5.8),(7.7,5.2),
 (7.92,4.8),(8.14,5.6),(8.36,5.1),(8.58,5.8),(8.8,5.0),(9.02,5.4),(9.24,4.9),(9.45,5.6),
 (0.6,6.8),(0.82,7.3),(1.04,6.5),(1.26,7.1),(1.48,6.4),(1.7,7.2),(1.92,6.7),(2.14,6.3),(2.36,7.0),(2.58,6.6),(2.8,7.3),
 (3.02,6.4),(3.24,6.9),(3.46,6.5),(3.68,7.2),(3.9,6.7),(4.12,6.3),(4.34,7.0),(4.56,6.6),(4.78,7.3),(5.0,6.8),(5.22,6.4),
 (5.44,7.1),(5.66,6.6),(5.88,7.0),(6.1,6.4),(6.32,7.2),(6.54,6.7),(6.76,6.3),(6.98,7.1),(7.2,6.6),(7.42,7.3),(7.64,6.5),
 (7.86,6.9),(8.08,6.4),(8.3,7.1),(8.52,6.7),(8.74,6.3),(8.96,7.2),(9.18,6.8),(9.4,6.5),(9.5,7.2),
 (0.68,8.3),(0.9,7.9),(1.12,8.7),(1.35,8.1),(1.57,8.5),(1.8,7.8),(2.02,8.8),(2.25,8.2),(2.47,7.9),(2.7,8.6),(2.92,8.0),
 (3.13,8.8),(3.35,7.9),(3.57,8.4),(3.8,8.0),(4.02,8.7),(4.24,8.2),(4.47,7.8),(4.69,8.6),(4.91,8.1),(5.13,8.8),(5.35,7.9),
 (5.57,8.4),(5.79,8.0),(6.01,8.7),(6.23,8.2),(6.45,7.8),(6.67,8.6),(6.9,8.0),(7.12,8.5),(7.34,7.9),(7.56,8.8),(7.78,8.2),
 (8.0,7.8),(8.22,8.6),(8.44,8.1),(8.66,8.8),(8.88,8.0),(9.1,8.4),(9.32,7.9),(9.48,8.6),
 (0.62,9.8),(0.95,9.3),(1.2,10.2),(1.5,9.6),(1.78,9.2),(2.05,10.0),(2.33,9.5),(2.6,10.3),(2.9,9.4),(3.15,9.9),(3.45,9.3),
 (3.7,10.1),(4.0,9.6),(4.28,9.2),(4.55,10.2),(4.85,9.7),(5.1,9.3),(5.38,10.0),(5.65,9.5),(5.95,10.3),(6.22,9.4),(6.5,9.9),
 (6.78,9.3),(7.05,10.1),(7.32,9.6),(7.6,9.2),(7.88,10.2),(8.15,9.7),(8.42,9.3),(8.7,10.0),(8.98,9.5),(9.25,10.2),(9.5,9.6)]
ais_right_band2 = [
 (0.6,1.5),(0.83,1.7),(1.05,1.4),(1.27,1.8),(1.49,1.5),(1.71,1.7),(1.93,1.4),(2.15,1.8),(2.37,1.5),(2.59,1.7),(2.81,1.4),
 (3.03,1.8),(3.25,1.5),(3.47,1.7),(3.69,1.4),(3.91,1.8),(4.13,1.5),(4.35,1.7),(4.57,1.4),(4.79,1.8),(5.01,1.5),(5.23,1.7),
 (5.45,1.4),(5.67,1.8),(5.89,1.5),(6.11,1.7),(6.33,1.4),(6.55,1.8),(6.77,1.5),(6.99,1.7),(7.21,1.4),(7.43,1.8),(7.65,1.5),
 (7.87,1.7),(8.09,1.4),(8.31,1.8),(8.53,1.5),(8.75,1.7),(8.97,1.4),(9.19,1.8),(9.41,1.5),
 (0.52,2.9),(0.72,3.1),(0.94,2.8),(1.16,3.2),(1.38,2.9),(1.6,3.1),(1.82,2.8),(2.04,3.2),(2.26,2.9),(2.48,3.1),(2.7,2.8),
 (2.92,3.2),(3.14,2.9),(3.36,3.1),(3.58,2.8),(3.8,3.2),(4.02,2.9),(4.24,3.1),(4.46,2.8),(4.68,3.2),(4.9,2.9),(5.12,3.1),
 (5.34,2.8),(5.56,3.2),(5.78,2.9),(6.0,3.1),(6.22,2.8),(6.44,3.2),(6.66,2.9),(6.88,3.1),(7.1,2.8),(7.32,3.2),(7.54,2.9),
 (7.76,3.1),(7.98,2.8),(8.2,3.2),(8.42,2.9),(8.64,3.1),(8.86,2.8),(9.08,3.2),(9.3,2.9),(9.5,3.1),
 (0.6,4.5),(0.83,4.3),(1.05,4.6),(1.27,4.4),(1.49,4.7),(1.71,4.4),(1.93,4.5),(2.15,4.3),(2.37,4.6),(2.59,4.4),(2.81,4.7),
 (3.03,4.4),(3.25,4.5),(3.47,4.3),(3.69,4.6),(3.91,4.4),(4.13,4.7),(4.35,4.4),(4.57,4.5),(4.79,4.3),(5.01,4.6),(5.23,4.4),
 (5.45,4.7),(5.67,4.4),(5.89,4.5),(6.11,4.3),(6.33,4.6),(6.55,4.4),(6.77,4.7),(6.99,4.4),(7.21,4.5),(7.43,4.3),(7.65,4.6),
 (7.87,4.4),(8.09,4.7),(8.31,4.4),(8.53,4.5),(8.75,4.3),(8.97,4.6),(9.19,4.4),(9.41,4.7),
 (0.55,6.0),(0.75,5.9),(0.97,6.1),(1.19,5.8),(1.41,6.1),(1.63,5.9),(1.85,6.2),(2.07,5.9),(2.29,6.0),(2.51,5.8),(2.73,6.1),
 (2.95,5.9),(3.17,6.2),(3.39,5.9),(3.61,6.0),(3.83,5.8),(4.05,6.1),(4.27,5.9),(4.49,6.2),(4.71,5.9),(4.93,6.0),(5.15,5.8),
 (5.37,6.1),(5.59,5.9),(5.81,6.2),(6.03,5.9),(6.25,6.0),(6.47,5.8),(6.69,6.1),(6.91,5.9),(7.13,6.2),(7.35,5.9),(7.57,6.0),
 (7.79,5.8),(8.01,6.1),(8.23,5.9),(8.45,6.2),(8.67,5.9),(8.89,6.0),(9.11,5.8),(9.33,6.1),(9.52,5.9),
 (0.64,7.6),(0.86,7.4),(1.08,7.7),(1.3,7.5),(1.52,7.8),(1.74,7.4),(1.96,7.6),(2.18,7.5),(2.4,7.7),(2.62,7.4),(2.84,7.6),
 (3.06,7.8),(3.28,7.5),(3.5,7.4),(3.72,7.7),(3.94,7.5),(4.16,7.6),(4.38,7.4),(4.6,7.8),(4.82,7.5),(5.04,7.6),(5.26,7.4),
 (5.48,7.7),(5.7,7.5),(5.92,7.6),(6.14,7.8),(6.36,7.5),(6.58,7.4),(6.8,7.7),(7.02,7.5),(7.24,7.6),(7.46,7.4),(7.68,7.8),
 (7.9,7.5),(8.12,7.6),(8.34,7.4),(8.56,7.7),(8.78,7.5),(9.0,7.6),(9.22,7.4),(9.44,7.8),
 (0.72,9.0),(0.98,8.9),(1.24,9.2),(1.48,8.9),(1.72,9.1),(1.95,8.8),(2.2,9.0),(2.45,9.2),(2.7,8.9),(2.95,9.1),(3.2,8.8),
 (3.45,9.0),(3.7,9.2),(3.95,8.9),(4.2,9.1),(4.45,8.8),(4.7,9.0),(4.95,9.2),(5.2,8.9),(5.45,9.1),(5.7,8.8),(5.95,9.0),
 (6.2,9.2),(6.45,8.9),(6.7,9.1),(6.95,8.8),(7.2,9.0),(7.45,9.2),(7.7,8.9),(7.95,9.1),(8.2,8.8),(8.45,9.0),(8.7,9.2),
 (8.95,8.9),(9.2,9.1),(9.45,8.8)]

ais_fit_left_x = [-9.6, 0.0]
ais_fit_left_y = [1.65, 1.75]
ais_fit_right_x = [0.0, 9.55]
ais_fit_right_y = [5.1, 5.85]

sar_xticks = [-2.5, 0.0, 2.5]
sar_xminor = [-3.75, -1.25, 1.25, 3.75]
sar_yticks = [0.0, 0.2, 0.4, 0.6]
sar_yminor = [0.1, 0.3, 0.5]
ais_xticks = [-10, -5, 0, 5, 10]
ais_xminor = [-7.5, -2.5, 2.5, 7.5]
ais_yticks = [0, 25, 50, 75]
ais_yminor = [12.5, 37.5, 62.5, 87.5]

titles = ["(a) Normalized SAR", "(b) AIS Apparent Fishing Hours"]
DOT = "#00008B"


def unzip(pts):
    return [p[0] for p in pts], [p[1] for p in pts]


def style(p, xt, xm, yt, ym, title, title_offset, xfmt=None, yfmt=None):
    xtick = FixedTicker(ticks=xt, minor_ticks=xm)
    ytick = FixedTicker(ticks=yt, minor_ticks=ym)
    p.xaxis.ticker = xtick
    p.yaxis.ticker = ytick
    p.xgrid.ticker = xtick
    p.ygrid.ticker = ytick
    if xfmt:
        p.xaxis.formatter = PrintfTickFormatter(format=xfmt)
    if yfmt:
        p.yaxis.formatter = PrintfTickFormatter(format=yfmt)
    for g in (p.xgrid, p.ygrid):
        g.grid_line_color = "#ebebeb"
        g.grid_line_width = 1.1
        g.minor_grid_line_color = "#f4f4f4"
        g.minor_grid_line_width = 1
    p.outline_line_color = "#b3b3b3"
    p.outline_line_width = 1
    p.background_fill_color = "white"
    p.border_fill_color = "white"
    for ax in (p.xaxis, p.yaxis):
        ax.axis_line_color = "black"
        ax.axis_line_width = 1.2
        ax.major_tick_out = 3
        ax.major_tick_in = 0
        ax.minor_tick_out = 0
        ax.minor_tick_in = 0
        ax.major_tick_line_color = "#333333"
        ax.major_label_text_font = "Liberation Sans"
        ax.major_label_text_font_size = "13px"
        ax.major_label_text_color = "#4d4d4d"
        ax.axis_label_text_font = "Liberation Sans"
        ax.axis_label_text_font_size = "15px"
        ax.axis_label_text_font_style = "normal"
        ax.axis_label_text_color = "black"
    p.xaxis.major_label_standoff = 3
    p.xaxis.axis_label_standoff = 0
    p.yaxis.major_label_standoff = 5
    p.yaxis.axis_label_standoff = 3
    p.add_layout(Span(location=0, dimension="height", line_color="black", line_width=1.2))
    # panel title: a blank second line lifts the visible line well above the frame
    p.title.text = title + "\n\u00a0"
    p.title.text_font = "Liberation Serif"
    p.title.text_font_size = "32px"
    p.title.text_font_style = "normal"
    p.title.text_color = "black"
    p.title.align = "left"
    p.title.offset = title_offset
    p.title.standoff = 4


# ---------------- panel (a) ----------------
p1 = figure(width=640, height=540, x_range=Range1d(-4.66, 4.65), y_range=Range1d(-0.0275, 0.611),
            output_backend="svg", toolbar_location=None,
            min_border_left=54, min_border_right=7, min_border_top=86, min_border_bottom=37)
style(p1, sar_xticks, sar_xminor, sar_yticks, sar_yminor, titles[0], 139, "%.1f", "%.1f")
p1.xaxis.axis_label = "Distance outside Inshore Exclusion Zone (km)"
p1.yaxis.axis_label = "Industrial fishing vessel detections per 100 overpasses"
for grp in (sar_left_upper, sar_left_core, sar_left_core2, sar_left_low,
            sar_right_upper, sar_right_core, sar_right_core2, sar_right_low):
    xs, ys = unzip(grp)
    p1.scatter(xs, ys, size=6.5, fill_color=DOT, line_color=DOT)
p1.line(sar_fit_left_x, sar_fit_left_y, line_color="red", line_width=1.3)
p1.line(sar_fit_right_x, sar_fit_right_y, line_color="red", line_width=1.3)

# ---------------- panel (b) ----------------
p2 = figure(width=629, height=540, x_range=Range1d(-10.5, 10.32), y_range=Range1d(-4.5, 95.0),
            output_backend="svg", toolbar_location=None,
            min_border_left=48, min_border_right=2, min_border_top=86, min_border_bottom=37)
style(p2, ais_xticks, ais_xminor, ais_yticks, ais_yminor, titles[1], 67)
p2.xaxis.axis_label = "Distance outside Inshore Exclusion Zone (km)"
p2.yaxis.axis_label = "AIS fishing hours"
for grp in (ais_left_outliers, ais_left_scatter, ais_left_band, ais_left_band2,
            ais_right_outliers, ais_right_scatter, ais_right_band, ais_right_band2):
    xs, ys = unzip(grp)
    p2.scatter(xs, ys, size=6.5, fill_color=DOT, line_color=DOT)
p2.line(ais_fit_left_x, ais_fit_left_y, line_color="red", line_width=1.3)
p2.line(ais_fit_right_x, ais_fit_right_y, line_color="red", line_width=1.3)

layout = row(p1, p2)
open("out.html", "w").write(file_html(layout, INLINE))
